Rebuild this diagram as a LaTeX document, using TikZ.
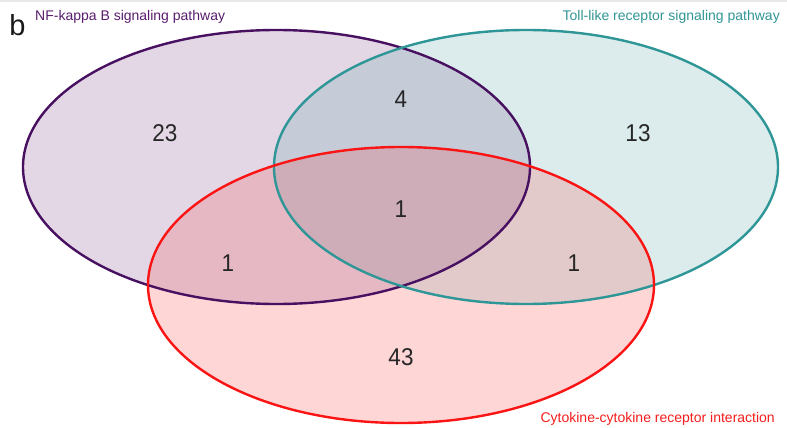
\documentclass[tikz,border=0pt]{standalone}
\usepackage{fontspec}
\setmainfont{Liberation Sans}
\definecolor{pA}{RGB}{72,16,96}
\definecolor{pB}{RGB}{46,150,150}
\definecolor{pC}{RGB}{250,20,20}
\definecolor{fA}{RGB}{227,215,229}
\definecolor{fB}{RGB}{220,236,236}
\definecolor{fC}{RGB}{255,214,214}
\definecolor{fAB}{RGB}{198,203,216}
\definecolor{fAC}{RGB}{230,184,195}
\definecolor{fBC}{RGB}{226,202,202}
\definecolor{fABC}{RGB}{206,173,184}
\definecolor{tA}{RGB}{90,30,110}
\definecolor{tB}{RGB}{50,150,150}
\definecolor{tC}{RGB}{245,30,30}
\tikzset{
  num/.style={font=\fontsize{22.5}{22.5}\selectfont, text=black!85, yscale=1.08},
  lab/.style={font=\fontsize{14}{14}\selectfont, inner sep=0pt},
  rim/.style={line width=2.4pt}
}
\begin{document}
\begin{tikzpicture}[x=1pt,y=-1pt]
\useasboundingbox (0,0) rectangle (787,428);
\fill[white] (0,0) rectangle (787,428);
\fill[gray!18] (0,0) rectangle (787,2);
\def\A{(276.5,167) ellipse [x radius=253.5, y radius=137]}
\def\B{(526,167) ellipse [x radius=252, y radius=137]}
\def\C{(401,285) ellipse [x radius=253, y radius=138]}
% base fills
\fill[fA] \A;
\fill[fB] \B;
\fill[fC] \C;
\begin{scope}
  \clip \A; \fill[fAB] \B; \fill[fAC] \C;
\end{scope}
\begin{scope}
  \clip \B; \fill[fBC] \C;
\end{scope}
\begin{scope}
  \clip \A; \clip \B; \fill[fABC] \C;
\end{scope}
% outlines
\draw[rim, pA] \A;
\draw[rim, pB] \B;
\draw[rim, pC] \C;
% counts
\node[num] (nA) at (165,133) {23};
\node[num] (nAB) at (401,99) {4};
\node[num] (nB) at (638,133) {13};
\node[num] (nABC) at (401,209) {1};
\node[num] (nAC) at (228,263) {1};
\node[num] (nBC) at (574,263) {1};
\node[num] (nC) at (401,357) {43};
% labels
\node[font=\fontsize{29}{29}\selectfont, text=black!90] (b) at (17.5,25) {b};
\node[lab, text=tA, anchor=west] (lA) at (35,17) {NF-kappa B signaling pathway};
\node[lab, text=tB, anchor=east] (lB) at (780,17) {Toll-like receptor signaling pathway};
\node[lab, text=tC, anchor=east] (lC) at (775,419) {Cytokine-cytokine receptor interaction};
\end{tikzpicture}
\end{document}
